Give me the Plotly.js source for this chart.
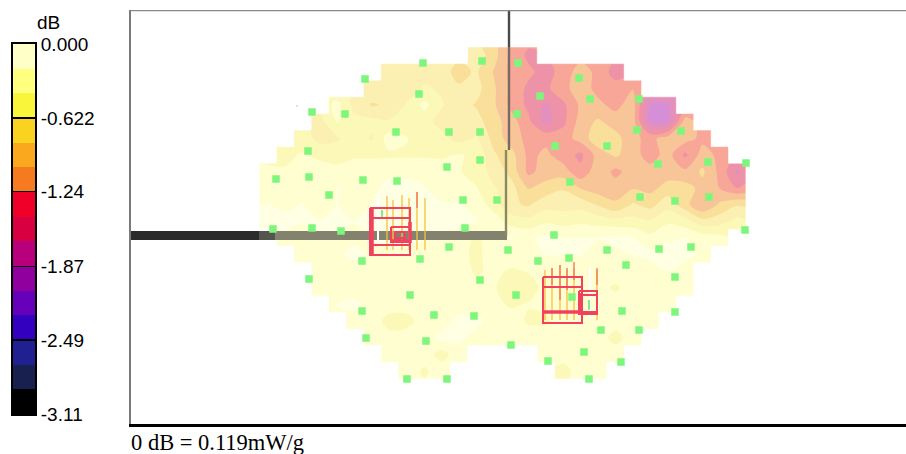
<!DOCTYPE html>
<html>
<head>
<meta charset="utf-8">
<script src="https://cdn.plot.ly/plotly-3.0.1.min.js"></script>
<style>html,body{margin:0;padding:0;background:#fff;overflow:hidden}#c{width:906px;height:454px}</style>
</head>
<body>
<div id="c"></div>
<script>
var N = null;
// dB scan values, 28 columns x 20 rows; null = not scanned
var scanRows = [
[N,N,N,N,N,N,N,N,N,N,N,N,-0.7,-0.95,-1.3,-1.5,N,N,N,N,N,N,N,N,N,N,N,N],
[N,N,N,N,N,N,N,-0.7,-0.75,-0.7,-0.75,-0.9,-0.8,-1.05,-1.3,-1.4,-1.55,-1.35,-1.15,-1.3,-1.55,N,N,N,N,N,N,N],
[N,N,N,N,N,N,-0.7,-0.8,-0.75,-0.6,-0.65,-0.8,-0.75,-1.0,-1.3,-1.5,-1.5,-1.3,-1.15,-1.3,-1.35,-1.25,N,N,N,N,N,N],
[N,N,N,N,-0.35,-0.7,-0.85,-0.8,-0.6,-0.35,-0.6,-0.75,-0.85,-1.0,-1.3,-1.5,-1.7,-1.5,-1.2,-1.2,-1.3,-1.15,-1.9,-1.9,N,N,N,N],
[N,N,N,-0.7,-0.4,-0.55,-0.55,-0.6,-0.6,-0.55,-0.7,-0.65,-0.75,-0.95,-1.15,-1.4,-1.75,-1.5,-1.15,-1.0,-1.15,-1.15,-1.9,-1.9,-1.15,N,N,N],
[N,N,-0.5,-0.7,-0.65,-0.5,-0.65,-0.3,-0.4,-0.55,-0.55,-0.7,-0.6,-0.9,-1.15,-1.3,-1.3,-1.35,-1.15,-0.9,-0.95,-1.2,-1.3,-1.15,-1.15,-1.3,N,N],
[N,-0.45,-0.4,-0.45,-0.5,-0.45,-0.45,-0.45,-0.45,-0.45,-0.45,-0.4,-0.45,-0.8,-0.95,-1.3,-1.2,-1.35,-1.5,-1.15,-1.0,-1.15,-1.35,-1.15,-1.5,-1.15,-1.3,N],
[-0.4,-0.4,-0.35,-0.35,-0.35,-0.3,-0.3,-0.25,-0.25,-0.25,-0.3,-0.4,-0.5,-0.7,-0.9,-1.3,-1.15,-1.15,-1.4,-1.1,-1.3,-1.15,-1.15,-1.15,-1.2,-1.0,-1.3,-1.7],
[-0.35,-0.3,-0.25,-0.3,-0.2,-0.25,-0.25,-0.15,-0.15,-0.2,-0.25,-0.3,-0.4,-0.6,-0.75,-1.05,-0.95,-0.85,-1.05,-1.15,-1.15,-1.05,-1.1,-0.95,-0.95,-1.1,-1.25,-1.45],
[-0.2,-0.25,-0.2,-0.3,-0.2,-0.3,-0.2,-0.15,-0.15,-0.15,-0.2,-0.2,-0.3,-0.5,-0.8,-0.85,-0.7,-0.7,-0.7,-0.85,-1.0,-0.8,-0.9,-0.7,-0.95,-1.25,-1.0,-0.85],
[-0.1,-0.15,-0.2,-0.2,-0.15,-0.2,-0.15,-0.15,-0.15,-0.1,-0.1,-0.15,-0.2,-0.3,-0.5,-0.55,-0.45,-0.5,-0.45,-0.5,-0.55,-0.55,-0.6,-0.45,-0.55,-0.75,-0.7,-0.55],
[N,-0.25,-0.25,-0.2,-0.25,-0.25,-0.2,-0.15,-0.15,-0.2,-0.2,-0.3,-0.45,-0.3,-0.2,-0.25,-0.15,-0.2,-0.2,-0.2,-0.15,-0.2,-0.35,-0.25,-0.2,-0.3,-0.35,N],
[N,N,-0.3,-0.3,-0.25,-0.15,-0.25,-0.25,-0.25,-0.25,-0.25,-0.3,-0.5,-0.25,-0.25,-0.25,-0.2,-0.2,-0.2,-0.25,-0.25,-0.2,-0.15,-0.1,-0.15,-0.25,N,N],
[N,N,N,-0.3,-0.3,-0.3,-0.3,-0.3,-0.3,-0.3,-0.3,-0.3,-0.45,-0.35,-0.45,-0.4,-0.35,-0.35,-0.3,-0.3,-0.3,-0.3,-0.3,-0.2,-0.3,N,N,N],
[N,N,N,-0.3,-0.35,-0.3,-0.3,-0.3,-0.3,-0.3,-0.3,-0.35,-0.35,-0.4,-0.5,-0.5,-0.35,-0.35,-0.3,-0.35,-0.45,-0.3,-0.3,-0.4,-0.3,N,N,N],
[N,N,N,N,-0.2,-0.15,-0.3,-0.3,-0.3,-0.3,-0.25,-0.3,-0.3,-0.35,-0.45,-0.4,-0.35,-0.3,-0.3,-0.3,-0.3,-0.3,-0.25,-0.25,N,N,N,N],
[N,N,N,N,N,-0.3,-0.3,-0.5,-0.5,-0.3,-0.3,-0.15,-0.15,-0.3,-0.3,-0.45,-0.45,-0.3,-0.3,-0.3,-0.3,-0.35,-0.3,N,N,N,N,N],
[N,N,N,N,N,N,-0.3,-0.35,-0.3,-0.3,-0.15,-0.15,-0.3,-0.3,-0.35,-0.3,-0.3,-0.3,-0.3,-0.3,-0.5,-0.3,N,N,N,N,N,N],
[N,N,N,N,N,N,N,-0.3,-0.3,-0.3,-0.5,-0.3,N,N,N,N,-0.3,-0.3,-0.3,-0.3,-0.3,N,N,N,N,N,N,N],
[N,N,N,N,N,N,N,N,-0.3,-0.45,-0.3,N,N,N,N,N,N,-0.5,-0.3,-0.3,N,N,N,N,N,N,N,N]
];
var gridX0 = 267.7, gridDX = 17.39, gridY0 = 55.3, gridDY = 16.6;

// measured probe points
var pointX = [423,482,365,419,312,345,396,449,480,308,480,447,276,309,363,397,329,463,497,518,579,540,590,639,517,637,681,555,607,658,708,746,570,640,675,709,273,312,341,465,449,508,362,420,309,480,410,362,434,474,366,426,511,407,447,554,745,607,659,691,538,569,626,675,516,572,622,675,601,639,584,548,621,589];
var pointY = [63,61,79,94,112,114,132,132,132,151,160,167,179,177,180,181,195,200,200,63,78,96,99,99,114,130,131,146,146,164,162,163,182,197,201,197,229,228,231,228,247,250,261,259,279,280,295,311,315,316,338,341,345,379,379,235,230,250,249,247,261,258,265,277,295,297,311,312,330,330,352,361,362,379];

// colour legend
var legendColors = ["#FFFFC8","#FFFF80","#F9F53B","#FAD220","#FAA91F","#F57A20","#F00028","#D80040","#B8007C","#90009F","#6600BA","#3300C0","#202090","#182050","#000000"];
var mapColors = ["#FFFFE4","#FFFED0","#FCF9B8","#FBF0B2","#F9DF9A","#F8C598","#F8A698","#EE92A8","#E490BC","#D68FD6","#BE90DC","#A890DC","#9C9CC8","#9C9CB0","#999999"];
var tickValues = [0,-0.622,-1.24,-1.87,-2.49,-3.11];
var tickLabels = ["0.000","-0.622","-1.24","-1.87","-2.49","-3.11"];
var dbMin = -3.11, dbMax = 0;

// phantom outline (upper and lower lead-ins)
var barDarkX = [131,259], barMidX = [259,275], barLightX = [275,507], barY = [235.5,235.5];
var riserUpperX = [509,509], riserUpperY = [10,47], riserUpperMapY = [47,150];
var riserLowerX = [506,506], riserLowerY = [150,236];

// device outlines: [x0,y0,x1,y1]
var redBoxes = [[370,208,410,255],[370,218,410,218],[370,245,410,245],[391,227,410,242],[395,232,405,238],
                [543,277,582,323],[543,287,582,287],[543,312,582,312],[579,291,597,314],[579,295,597,295],[579,312,597,312]];
var redHeavy = [[410,222,410,243],[391,241,410,241],[581,293,581,314],[543,312,582,312],[372,208,372,255]];
// vertical streaks: x, top, bottom
var amberStreaks = [[387,196,250],[393,200,250],[402,195,250],[409,198,250],[417,192,250],[425,198,250],[545,270,320],[552,268,320],[560,265,320],[567,270,320],[574,268,320],[597,270,320]];
var hotStreaks = [[417,192,208],[552,268,285],[560,265,300],[574,262,280],[597,268,285],[567,268,290]];
var paleStreaks = [[378,195,245],[590,268,318]];
var greenBits = [[382,210,218],[396,226,228],[404,226,228],[589,300,310]];

var n = 28, m = 20;
// padded grid so that the filled contours reach the outer edge of the cells
var paddedZ = [new Array(n+2).fill(null)];
scanRows.forEach(function(r){ paddedZ.push([null].concat(r,[null])); });
paddedZ.push(new Array(n+2).fill(null));
var px0 = gridX0 - gridDX, py0 = gridY0 - gridDY;

// white cover over every unscanned cell, row by row
var maskX = [], maskY = [];
paddedZ.forEach(function(r,j){
  var i = 0;
  while (i < r.length) {
    if (r[i] !== null) { i++; continue; }
    var s = i;
    while (i < r.length && r[i] === null) i++;
    var xa = px0 + (s-0.5)*gridDX, xb = px0 + (i-0.5)*gridDX;
    var ya = py0 + (j-0.5)*gridDY, yb = py0 + (j+0.5)*gridDY;
    maskX.push(xa,xb,xb,xa,xa,null);
    maskY.push(ya,ya,yb,yb,ya,null);
  }
});

var bandStep = (dbMax-dbMin)/15;
var cs = [[0,mapColors[14]]];
for (var k=0;k<15;k++) cs.push([(k+1)/16, mapColors[14-k]]);
cs.push([1,mapColors[0]]);

function segs(list, fn){ var xs=[],ys=[]; list.forEach(function(b){ var p=fn(b); xs=xs.concat(p[0],[null]); ys=ys.concat(p[1],[null]); }); return [xs,ys]; }
function ln(x,y,color,w){ return {type:'scatter',mode:'lines',x:x,y:y,line:{color:color,width:w,simplify:false},hoverinfo:'skip',showlegend:false,connectgaps:false}; }
var boxPaths = segs(redBoxes,function(b){ return [[b[0],b[2],b[2],b[0],b[0]],[b[1],b[1],b[3],b[3],b[1]]]; });
var heavyPaths = segs(redHeavy,function(b){ return [[b[0],b[2]],[b[1],b[3]]]; });
var vert = function(s){ return [[s[0],s[0]],[s[1],s[2]]]; };
var amber = segs(amberStreaks,vert), hot = segs(hotStreaks,vert), pale = segs(paleStreaks,vert), gb = segs(greenBits,vert);

var traces = [
 {type:'contour',x0:px0,dx:gridDX,y0:py0,dy:gridDY,z:paddedZ,connectgaps:true,autocontour:false,
  contours:{start:dbMin,end:0.001,size:bandStep,coloring:'fill',showlines:false},line:{width:0,smoothing:0.85},
  colorscale:cs,showscale:false,hoverinfo:'skip'},
 {type:'scatter',mode:'lines',x:maskX,y:maskY,fill:'toself',fillcolor:'#ffffff',line:{color:'#ffffff',width:0.6},hoverinfo:'skip',showlegend:false},
 ln(barDarkX,barY,'#2b2b2b',9),
 ln(barMidX,barY,'#555550',9),
 ln(barLightX,barY,'#82826f',9),
 ln(riserUpperX,riserUpperY,'#4a4a4a',2.4),
 ln(riserUpperX,riserUpperMapY,'#7a6a66',2.4),
 ln(riserLowerX,riserLowerY,'#8a8a62',2.4),
 ln(amber[0],amber[1],'#F8C040',1.3),
 ln(hot[0],hot[1],'#F0705A',1.3),
 ln(pale[0],pale[1],'#FFFFFF',2),
 ln(gb[0],gb[1],'#5fe06f',1.5),
 ln(boxPaths[0],boxPaths[1],'#F2415F',2),
 ln(heavyPaths[0],heavyPaths[1],'#F2415F',3.5),
 {type:'scatter',mode:'markers',x:pointX,y:pointY,marker:{symbol:'square',size:7.5,color:'#7CF77C',line:{width:0}},hoverinfo:'skip',showlegend:false},
 {type:'scatter',mode:'markers',x:[297],y:[106],marker:{symbol:'square',size:2,color:'#BFEFE8',line:{width:0}},hoverinfo:'skip',showlegend:false},
 ln([131,906],[10.5,10.5],'#8a8a8a',1.5),
 {type:'heatmap',xaxis:'x2',yaxis:'y2',x:[0],y0:dbMin+bandStep/2,dy:bandStep,
  z:legendColors.map(function(c,i){ return [i]; }),
  zmin:0,zmax:14,showscale:false,hoverinfo:'skip',
  colorscale:legendColors.slice().reverse().map(function(c,i){ return [i/14,c]; })}
];

var H=454,W=906;
var layout = {
 width:W,height:H,margin:{l:0,r:0,t:0,b:0,pad:0},paper_bgcolor:'#fff',plot_bgcolor:'#fff',showlegend:false,hovermode:false,
 font:{family:'"Liberation Sans",Arial,sans-serif',color:'#000'},
 xaxis:{domain:[131/W,1],range:[131,906],showgrid:false,zeroline:false,showticklabels:false,ticks:'',showline:true,linecolor:'#000',linewidth:2.5,anchor:'y'},
 yaxis:{domain:[(H-424)/H,(H-10)/H],range:[424,10],showgrid:false,zeroline:false,showticklabels:false,ticks:'',showline:true,linecolor:'#7a7a7a',linewidth:2,anchor:'x'},
 xaxis2:{domain:[13/W,35/W],range:[-0.5,0.5],showgrid:false,zeroline:false,showticklabels:false,ticks:'',showline:true,mirror:true,linecolor:'#000',linewidth:2,anchor:'y2'},
 yaxis2:{domain:[(H-414)/H,(H-44)/H],range:[dbMin,dbMax],side:'right',anchor:'x2',showgrid:false,zeroline:false,showline:true,mirror:true,linecolor:'#000',linewidth:2,
   tickmode:'array',tickvals:tickValues,ticktext:tickLabels,ticks:'inside',ticklen:22,tickwidth:1.5,tickcolor:'#000',ticklabelposition:'outside',
   tickfont:{family:'"Liberation Sans",Arial,sans-serif',size:19,color:'#000'},layer:'above traces',automargin:false},
 annotations:[
  {xref:'paper',yref:'paper',x:35/W,y:(H-22)/H,xanchor:'left',yanchor:'middle',text:'dB',showarrow:false,font:{size:19,color:'#000',family:'"Liberation Sans",Arial,sans-serif'}},
  {xref:'paper',yref:'paper',x:129/W,y:(H-442)/H,xanchor:'left',yanchor:'middle',text:'0 dB = 0.119mW/g',showarrow:false,font:{size:22.5,color:'#000',family:'"Liberation Serif","Times New Roman",serif'}}
 ]
};
Plotly.newPlot('c',traces,layout,{displayModeBar:false,staticPlot:true});
</script>
</body>
</html>
